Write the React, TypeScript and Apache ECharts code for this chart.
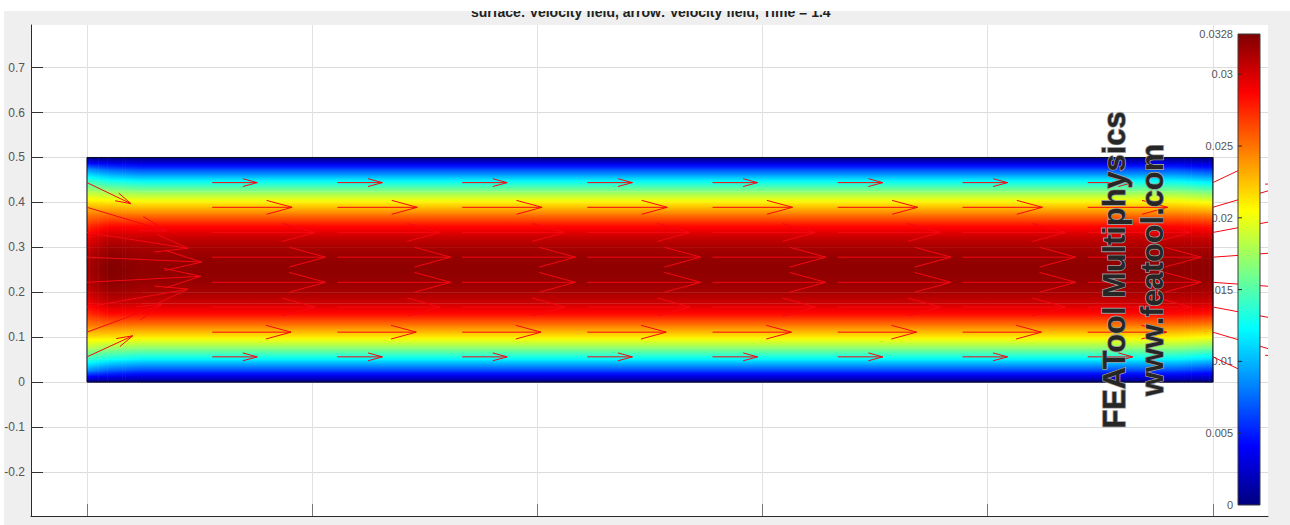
import React, { useEffect, useRef } from "react";
import * as echarts from "echarts";

const titleText = "surface: Velocity field, arrow: Velocity field, Time = 1.4";
const watermarkName = "FEATool Multiphysics";
const watermarkUrl = "www.featool.com";

const xTicks = [0, 0.5, 1, 1.5, 2, 2.5];
const yTicks = [-0.2, -0.1, 0, 0.1, 0.2, 0.3, 0.4, 0.5, 0.6, 0.7];
const colorbarTicks = [0, 0.005, 0.01, 0.015, 0.02, 0.025, 0.03, 0.0328];

const surfaceY = [0, 0.025, 0.05, 0.075, 0.1, 0.125, 0.15, 0.175, 0.2, 0.225, 0.25, 0.275, 0.3, 0.325, 0.35, 0.375, 0.4, 0.425, 0.45, 0.475, 0.5];
const inletProfile = [0, 0.0085, 0.0138, 0.018, 0.0215, 0.0245, 0.027, 0.029, 0.0303, 0.0312, 0.0315, 0.0312, 0.0303, 0.029, 0.027, 0.0245, 0.0215, 0.018, 0.0138, 0.0085, 0];
const nearInletProfile = [0, 0.007, 0.0125, 0.0172, 0.0213, 0.0248, 0.0282, 0.0305, 0.0318, 0.0325, 0.0327, 0.0325, 0.0318, 0.0305, 0.0282, 0.0248, 0.0213, 0.0172, 0.0125, 0.007, 0];
const developedProfile = [0, 0.0062, 0.0118, 0.0167, 0.021, 0.0246, 0.0282, 0.0303, 0.0315, 0.0321, 0.0323, 0.0321, 0.0315, 0.0303, 0.0282, 0.0246, 0.021, 0.0167, 0.0118, 0.0062, 0];
const outletProfile = [0, 0.0053, 0.0108, 0.0158, 0.0203, 0.0242, 0.0278, 0.0301, 0.0314, 0.0321, 0.0323, 0.0321, 0.0314, 0.0301, 0.0278, 0.0242, 0.0203, 0.0158, 0.0108, 0.0053, 0];
const surfaceStationsX = [0, 0.05, 0.12, 2.42, 2.5];
const surfaceStations = [inletProfile, nearInletProfile, developedProfile, developedProfile, outletProfile];
const surfaceBounds = [0, 2.5, 0, 0.5];

// arrows
const arrowColumnsX = [0, 0.278, 0.556, 0.833, 1.111, 1.389, 1.667, 1.944, 2.222, 2.5];
const arrowRowsY = [0.444, 0.389, 0.333, 0.278, 0.222, 0.167, 0.111, 0.056];
const inletU = [0.0125, 0.0227, 0.0287, 0.0326, 0.0323, 0.0287, 0.0213, 0.013];
const inletV = [-0.006, -0.0068, -0.0045, -0.0014, 0.0017, 0.0051, 0.0079, 0.006];
const midU = [0.0128, 0.0227, 0.0292, 0.0322, 0.0322, 0.0292, 0.0224, 0.0128];
const outletU = [0.0128, 0.0227, 0.0287, 0.0326, 0.0323, 0.0287, 0.0227, 0.013];
const outletV = [0.0061, 0.0068, 0.0054, 0.0023, -0.0023, -0.0054, -0.0068, -0.0062];
const arrowScale = 7.82;

const VMAX = 0.0328;
const jetStops: [number, number[]][] = [
  [0, [0, 0, 127]],
  [0.125, [0, 0, 255]],
  [0.375, [0, 255, 255]],
  [0.625, [255, 255, 0]],
  [0.875, [255, 0, 0]],
  [1, [127, 0, 0]],
];
function jet(v: number): string {
  const t = Math.max(0, Math.min(1, v / VMAX));
  for (let i = 1; i < jetStops.length; i++) {
    if (t <= jetStops[i][0]) {
      const [a, ca] = jetStops[i - 1];
      const [b, cb] = jetStops[i];
      const f = (t - a) / (b - a);
      const c = ca.map((k, n) => Math.round(k + (cb[n] - k) * f));
      return `rgb(${c[0]},${c[1]},${c[2]})`;
    }
  }
  return "rgb(127,0,0)";
}

function buildSurface(): number[][] {
  const out: number[][] = [];
  for (let s = 0; s < surfaceStationsX.length - 1; s++) {
    const same = surfaceStations[s] === surfaceStations[s + 1];
    const n = same ? 1 : 10;
    for (let k = 0; k < n; k++) {
      const t0 = k / n;
      const t1 = (k + 1) / n;
      const tm = (t0 + t1) / 2;
      const x0 = surfaceStationsX[s] + (surfaceStationsX[s + 1] - surfaceStationsX[s]) * t0;
      const x1 = surfaceStationsX[s] + (surfaceStationsX[s + 1] - surfaceStationsX[s]) * t1;
      for (let r = 0; r < surfaceY.length - 1; r++) {
        const lo = surfaceStations[s][r] * (1 - tm) + surfaceStations[s + 1][r] * tm;
        const hi = surfaceStations[s][r + 1] * (1 - tm) + surfaceStations[s + 1][r + 1] * tm;
        out.push([x0, x1, surfaceY[r], surfaceY[r + 1], lo, hi]);
      }
    }
  }
  return out;
}

function buildArrows(): number[][] {
  const out: number[][] = [];
  arrowColumnsX.forEach((x, c) => {
    arrowRowsY.forEach((y, r) => {
      let u = midU[r];
      let v = 0;
      if (c === 0) {
        u = inletU[r];
        v = inletV[r];
      } else if (c === arrowColumnsX.length - 1) {
        u = outletU[r];
        v = outletV[r];
      }
      out.push([x, y, x + u * arrowScale, y + v * arrowScale]);
    });
  });
  return out;
}

function renderSurface(_: any, api: any) {
  const a = api.coord([api.value(0), api.value(3)]);
  const b = api.coord([api.value(1), api.value(2)]);
  const lo = api.value(4);
  const hi = api.value(5);
  const colorStops = [0, 0.25, 0.5, 0.75, 1].map((o) => ({ offset: o, color: jet(hi + (lo - hi) * o) }));
  return {
    type: "rect",
    shape: { x: a[0], y: a[1], width: b[0] - a[0] + 0.6, height: b[1] - a[1] + 0.4 },
    style: { fill: new echarts.graphic.LinearGradient(0, 0, 0, 1, colorStops), stroke: "none" },
  };
}

function renderOutline(_: any, api: any) {
  const a = api.coord([api.value(0), api.value(3)]);
  const b = api.coord([api.value(1), api.value(2)]);
  return {
    type: "rect",
    shape: { x: a[0], y: a[1], width: b[0] - a[0], height: b[1] - a[1] },
    style: { fill: "none", stroke: "#0a0a1e", lineWidth: 1 },
  };
}

function renderArrow(_: any, api: any) {
  const s = api.coord([api.value(0), api.value(1)]);
  const t = api.coord([api.value(2), api.value(3)]);
  const dx = t[0] - s[0];
  const dy = t[1] - s[1];
  const bx = t[0] - dx * 0.32;
  const by = t[1] - dy * 0.32;
  const nx = -dy * 0.087;
  const ny = dx * 0.087;
  const style = { fill: "none", stroke: "#f50812", lineWidth: 1 };
  return {
    type: "group",
    children: [
      { type: "polyline", shape: { points: [s, t] }, style },
      { type: "polyline", shape: { points: [[bx + nx, by + ny], t, [bx - nx, by - ny]] }, style },
    ],
  };
}

function renderColorbar(_: any, api: any) {
  const a = api.coord([0, api.value(1)]);
  const b = api.coord([1, api.value(0)]);
  const lo = api.value(0);
  const hi = api.value(1);
  const stops = jetStops.map(([o]) => ({ offset: 1 - o, color: jet(lo + (hi - lo) * o) })).reverse();
  const ticks = colorbarTicks.slice(1, -1).map((v) => {
    const p = api.coord([0, v]);
    return {
      type: "line",
      shape: { x1: p[0], y1: p[1], x2: p[0] + 4, y2: p[1] },
      style: { stroke: "#2c2c2c", lineWidth: 1 },
    };
  });
  return {
    type: "group",
    children: [
      {
        type: "rect",
        shape: { x: a[0], y: a[1], width: b[0] - a[0], height: b[1] - a[1] },
        style: { fill: new echarts.graphic.LinearGradient(0, 0, 0, 1, stops), stroke: "#3c3c3c", lineWidth: 1 },
      },
      ...ticks,
    ],
  };
}

export default function App() {
  const ref = useRef<HTMLDivElement>(null);
  useEffect(() => {
    document.body.style.margin = "0";
    document.body.style.overflow = "hidden";
    const chart = echarts.init(ref.current!, undefined, { renderer: "svg" });
    const halo = { stroke: "#9a9a9a", lineWidth: 1.6, strokeFirst: true };
    chart.setOption({
      animation: false,
      backgroundColor: "#efefef",
      textStyle: { fontFamily: "Liberation Sans" },
      title: {
        text: titleText,
        left: 471,
        top: 5,
        padding: 0,
        textStyle: { fontSize: 14, fontWeight: "bold", color: "#222", fontFamily: "Liberation Sans" },
      },
      grid: [
        { left: 31, top: 25, width: 1237, height: 491, show: true, backgroundColor: "#fff", borderWidth: 0 },
        { left: 1238, top: 34, width: 22, height: 471, show: false },
      ],
      xAxis: [
        {
          type: "value",
          gridIndex: 0,
          min: -0.1243,
          max: 2.6224,
          axisLine: { onZero: false, lineStyle: { color: "#2a2a2a", width: 1 } },
          axisTick: { show: true, inside: true, length: 12, lineStyle: { color: "#777" }, customValues: xTicks },
          axisLabel: { show: false, customValues: xTicks },
          splitLine: { show: true, lineStyle: { color: "#e2e2e2", width: 1 } },
        },
        { type: "value", gridIndex: 1, min: 0, max: 1, show: false },
      ],
      yAxis: [
        {
          type: "value",
          gridIndex: 0,
          min: -0.2984,
          max: 0.795,
          axisLine: { show: true, onZero: false, lineStyle: { color: "#2a2a2a", width: 1 } },
          axisTick: { show: true, inside: true, length: 12, lineStyle: { color: "#333" }, customValues: yTicks },
          axisLabel: {
            show: true,
            margin: 6,
            fontSize: 12,
            color: "#555",
            fontFamily: "Liberation Sans",
            customValues: yTicks,
            formatter: (v: number) => String(Math.round(v * 10) / 10),
          },
          splitLine: { show: true, lineStyle: { color: "#dcdcdc", width: 1 } },
        },
        {
          type: "value",
          gridIndex: 1,
          min: 0,
          max: VMAX,
          position: "left",
          axisLine: { show: false },
          axisTick: { show: false },
          axisLabel: {
            show: true,
            margin: 5,
            fontSize: 11,
            color: "#555",
            fontFamily: "Liberation Sans",
            customValues: colorbarTicks,
            showMinLabel: true,
            showMaxLabel: true,
          },
          splitLine: { show: false },
        },
      ],
      series: [
        {
          type: "custom",
          name: "surface",
          xAxisIndex: 0,
          yAxisIndex: 0,
          z: 2,
          clip: true,
          renderItem: renderSurface,
          data: buildSurface(),
          encode: { x: [0, 1], y: [2, 3] },
          silent: true,
        },
        {
          type: "custom",
          name: "outline",
          xAxisIndex: 0,
          yAxisIndex: 0,
          z: 3,
          renderItem: renderOutline,
          data: [surfaceBounds],
          encode: { x: [0, 1], y: [2, 3] },
          silent: true,
        },
        {
          type: "custom",
          name: "arrow",
          xAxisIndex: 0,
          yAxisIndex: 0,
          z: 4,
          clip: true,
          renderItem: renderArrow,
          data: buildArrows(),
          encode: { x: [0, 2], y: [1, 3] },
          silent: true,
        },
        {
          type: "custom",
          name: "colorbar",
          xAxisIndex: 1,
          yAxisIndex: 1,
          z: 5,
          renderItem: renderColorbar,
          data: [[0, VMAX]],
          encode: { y: [0, 1] },
          silent: true,
        },
      ],
      graphic: [
        { type: "rect", z: 100, shape: { x: 0, y: 0, width: 1290, height: 11 }, style: { fill: "#fff" }, silent: true },
        { type: "rect", z: 100, shape: { x: 0, y: 0, width: 4, height: 525 }, style: { fill: "#fff" }, silent: true },
        {
          type: "text",
          z: 101,
          x: 1114,
          y: 270,
          rotation: Math.PI / 2,
          style: { text: watermarkName, font: "bold 30.8px 'Liberation Sans'", fill: "#262626", textAlign: "center", textVerticalAlign: "middle", ...halo },
          silent: true,
        },
        {
          type: "text",
          z: 101,
          x: 1152,
          y: 270,
          rotation: Math.PI / 2,
          style: { text: watermarkUrl, font: "bold 30.8px 'Liberation Sans'", fill: "#262626", textAlign: "center", textVerticalAlign: "middle", ...halo },
          silent: true,
        },
      ],
    });
    return () => chart.dispose();
  }, []);
  return <div ref={ref} style={{ width: 1290, height: 525 }} />;
}
